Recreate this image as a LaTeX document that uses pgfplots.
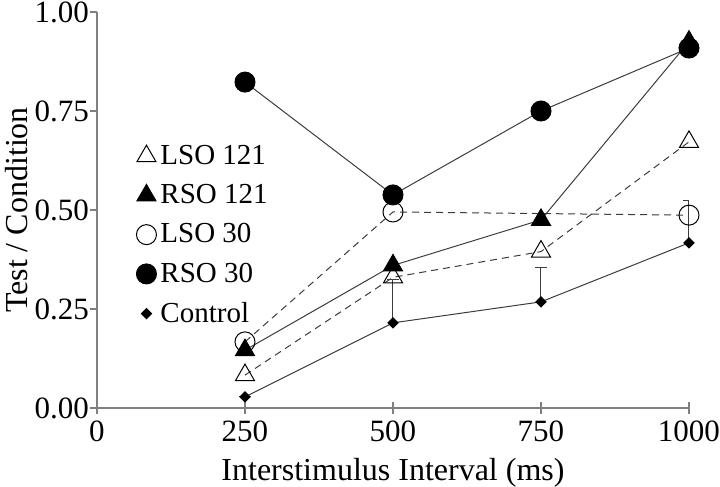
\documentclass[border=0pt]{standalone}
\usepackage{fontspec}
\setmainfont{Liberation Serif}
\usepackage{pgfplots}
\pgfplotsset{compat=1.18}
\definecolor{axgray}{RGB}{128,128,128}
\definecolor{lngray}{RGB}{60,60,60}
\begin{document}
\begin{tikzpicture}
\begin{axis}[
  at={(0,0)}, anchor=south west,
  scale only axis, width=296pt, height=198pt,
  xmin=0, xmax=1000, ymin=0, ymax=1,
  axis lines*=left,
  axis line style={axgray, line width=0.6pt},
  xtick={0,250,500,750,1000},
  ytick={0,0.25,0.5,0.75,1},
  tick label style={font=\fontsize{15.5}{18}\selectfont},
  yticklabel style={xshift=5.5pt, /pgf/number format/.cd, fixed, fixed zerofill, precision=2},
  xticklabel style={yshift=3pt, /pgf/number format/.cd, set thousands separator={}},
  /pgf/number format/assume math mode=true,
  tick align=outside,
  tick style={axgray, line width=0.6pt},
  major tick length=6pt,
  x tick style={yshift=3pt},
  y tick style={xscale=0.583},
  font=\fontsize{16}{19}\selectfont,
  xlabel={Interstimulus Interval (ms)},
  ylabel={Test / Condition},
  xlabel shift={1.5pt},
  ylabel shift={-3.5pt},
  legend style={draw=none, fill=none, at={(rel axis cs:0.066,0.675)}, anchor=north west,
    font=\fontsize{14.5}{16}\selectfont, row sep=4.5pt, inner sep=0pt, nodes={inner xsep=2pt}},
  legend cell align=left,
  legend image code/.code={\draw[#1, only marks] plot coordinates {(0cm,0cm)};},
]
\addplot[lngray, line width=0.5pt, dash pattern=on 3.5pt off 2.5pt,
  mark=triangle, mark size=5.5pt, mark options={solid, black, line width=0.5pt}]
  coordinates {(250,0.083) (500,0.33) (750,0.395) (1000,0.672)};
\addlegendentry{LSO 121}
\addplot[lngray, line width=0.5pt,
  mark=triangle*, mark size=5.5pt, mark options={solid, black, fill=black}]
  coordinates {(250,0.146) (500,0.36) (750,0.475) (1000,0.925)};
\addlegendentry{RSO 121}
\addplot[lngray, line width=0.5pt, dash pattern=on 3.5pt off 2.5pt,
  mark=o, mark size=5pt, mark options={solid, black, line width=0.5pt}]
  coordinates {(250,0.167) (500,0.495) (1000,0.487)};
\addlegendentry{LSO 30}
\addplot[lngray, line width=0.5pt,
  mark=*, mark size=5pt, mark options={solid, black, fill=black}]
  coordinates {(250,0.823) (500,0.538) (750,0.75) (1000,0.909)};
\addlegendentry{RSO 30}
\addplot[lngray, line width=0.5pt,
  mark=square*, mark size=1.8pt, mark options={solid, black, fill=black, rotate=45},
  error bars/.cd, y dir=plus, y explicit,
  error bar style={lngray, line width=0.5pt},
  error mark options={rotate=90, mark size=3pt, lngray, line width=0.5pt}]
  coordinates {(250,0.028) +- (0,0) (500,0.215) +- (0,0.11) (750,0.268) +- (0,0.086) (1000,0.417) +- (0,0.106)};
\addlegendentry{Control}
\end{axis}
\pgfresetboundingbox
\path (-48.5pt,-39.5pt) rectangle (311.5pt,204pt);
\end{tikzpicture}
\end{document}
